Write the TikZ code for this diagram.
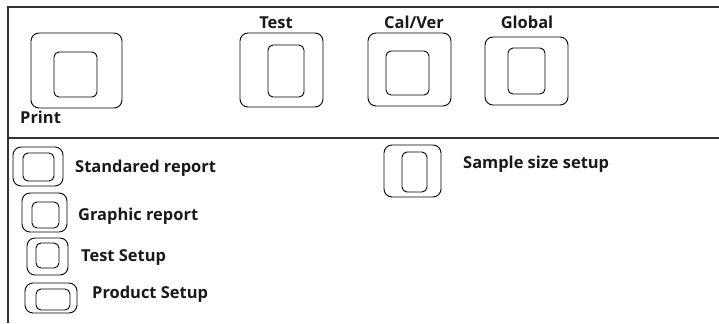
\documentclass[tikz,border=0pt]{standalone}
\usepackage{fontspec}
\setmainfont{Open Sans}
\begin{document}
\begin{tikzpicture}[x=1bp,y=-1bp,
  outerbox/.style={draw=black, line width=0.9bp, rounded corners=8bp, inner sep=0pt},
  innerbox/.style={draw=black, line width=0.9bp, rounded corners=5bp, inner sep=0pt},
  lbl/.style={font=\bfseries\fontsize{16.5}{18}\selectfont, text=black!90, inner sep=0pt},
  frameline/.style={draw=black!80, line width=1.3bp}]
\useasboundingbox (0,0) rectangle (719,323);
% frame
\coordinate (tl) at (8,7);
\coordinate (tr) at (719,7);
\coordinate (bl) at (8,323);
\coordinate (dl) at (8,138);
\coordinate (dr) at (719,138);
\draw[frameline] (bl) -- (tl) -- (tr);
\draw[frameline] (dl) -- (dr);
% top row of buttons
\node[outerbox, minimum width=91bp, minimum height=75bp] (printO) at (76.5,70.5) {};
\node[innerbox, minimum width=43bp, minimum height=45bp] (printI) at (75.5,74.5) {};
\node[lbl, anchor=base west] (printL) at (20,123) {Print};
\node[outerbox, minimum width=83bp, minimum height=74bp] (testO) at (281.5,70) {};
\node[innerbox, minimum width=36bp, minimum height=52bp] (testI) at (286,71) {};
\node[lbl, anchor=base] (testL) at (276,28) {Test};
\node[outerbox, minimum width=83bp, minimum height=73bp] (calO) at (409.5,69.5) {};
\node[innerbox, minimum width=43bp, minimum height=44bp] (calI) at (407.5,73) {};
\node[lbl, anchor=base] (calL) at (414,28) {Cal/Ver};
\node[outerbox, minimum width=83bp, minimum height=68bp] (globO) at (526.5,71) {};
\node[innerbox, minimum width=37bp, minimum height=46bp] (globI) at (526.5,71) {};
\node[lbl, anchor=base] (globL) at (527,28) {Global};
% lower list
\node[outerbox, minimum width=50bp, minimum height=39bp] (stdO) at (38,166.5) {};
\node[innerbox, minimum width=31bp, minimum height=28bp] (stdI) at (38.5,167) {};
\node[lbl, anchor=base west] (stdL) at (75,172) {Standared report};
\node[outerbox, minimum width=45bp, minimum height=39bp] (graO) at (44.5,212.5) {};
\node[innerbox, minimum width=27bp, minimum height=26bp] (graI) at (45.5,215) {};
\node[lbl, anchor=base west] (graL) at (78,220) {Graphic report};
\node[outerbox, minimum width=41bp, minimum height=37bp] (tsO) at (47.5,256.5) {};
\node[innerbox, minimum width=23bp, minimum height=25bp] (tsI) at (47.5,255.5) {};
\node[lbl, anchor=base west] (tsL) at (81,261) {Test Setup};
\node[outerbox, minimum width=52bp, minimum height=30bp] (psO) at (51,298) {};
\node[innerbox, minimum width=34bp, minimum height=21bp] (psI) at (53,299.5) {};
\node[lbl, anchor=base west] (psL) at (92,298) {Product Setup};
\node[outerbox, minimum width=57bp, minimum height=52bp] (ssO) at (412.5,171) {};
\node[innerbox, minimum width=25bp, minimum height=40bp] (ssI) at (414.5,172) {};
\node[lbl, anchor=base west] (ssL) at (463,168) {Sample size setup};
\end{tikzpicture}
\end{document}
